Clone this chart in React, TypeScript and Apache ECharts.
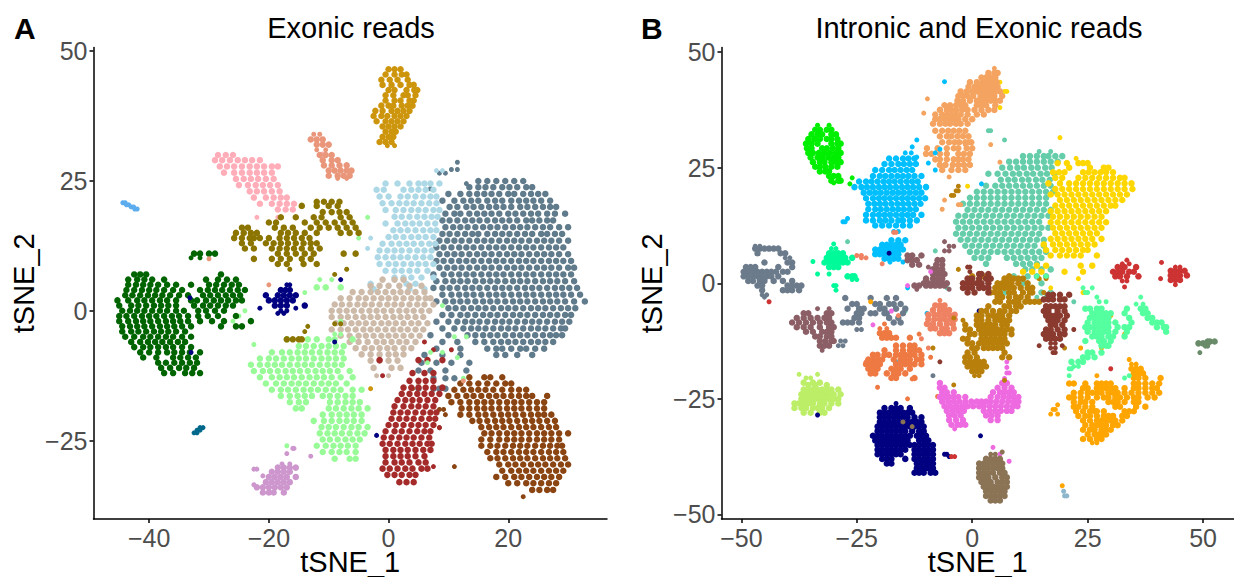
import React, { useEffect, useRef } from "react";
import * as echarts from "echarts";

// Each row is [y, x, x, x, ...], in tSNE units.
type Rows = number[][];

const xTicksA = [-40, -20, 0, 20];
const yTicksA = [-25, 0, 25, 50];
const xTicksB = [-50, -25, 0, 25, 50];
const yTicksB = [-50, -25, 0, 25, 50];

const aSlate: Rows = [
  [28.6,11.5],[27.2,10.5,11.5],[26.5,8.5,9.5],[24.5,13],[23.5,7],[25,15,16.5,18,19.5,21,22.5],
  [23.8,13.5,15,16.2,17.5,19,20.2,21.5,23,24],
  [22.5,10,12,13.5,14.8,16,17.2,18.5,20,21,22.5,23.8,25,26.2],
  [21.2,9,11,12.5,13.8,15,16.5,17.8,19,20.5,21.8,23,24.2,25.5,27],
  [20,10.2,11.5,13,14.2,15.5,16.8,18,19.2,20.5,22,23.2,24.5,25.8,27,28],
  [18.7,9.5,11,12,13.5,14.8,16,17.2,18.5,20,21.2,22.5,23.8,25,26.5,27.8,29.5],
  [17.4,9,10.2,11.5,12.8,14,15.2,16.5,17.8,19,20.2,21.5,23,24,25.2,26.5,27.5],
  [16.1,9.5,10.8,12,13.2,14.5,15.8,17,18.2,19.5,20.8,22,23.2,24.5,25.8,27,28.5,30],
  [14.8,9,10.2,11.5,12.8,14,15,16.5,17.8,19,20.2,21.5,22.8,24,25.5,26.5,27.8,29],
  [13.5,8.5,9.8,11,12.2,13.5,14.8,16,17.2,18.5,19.8,21,22.2,23.5,24.8,26,27.2,28.5,30],
  [12.2,8,9.2,10.5,11.8,13,14.2,15.5,16.8,18,19.2,20.5,21.8,23,24.2,25.5,26.8,28,29.2],
  [10.9,8.5,9.8,11,12.2,13.5,14.8,16,17.2,18.5,19.8,21,22.2,23.5,24.8,26,27.2,28.5,30],
  [9.6,8,9.2,10.5,11.8,13,14.2,15.5,16.8,18,19.2,20.5,21.8,23,24.2,25.5,26.8,28,29.2,30.5],
  [8.3,8.5,9.8,11,12.2,13.5,14.8,16,17.2,18.5,19.8,21,22.2,23.5,24.8,26,27.2,28.5,30,31],
  [7,7.5,9.2,10.5,11.8,13,14.2,15.5,16.8,18,19.2,20.5,21.8,23,24.2,25.5,26.8,28,29.2,30.5],
  [5.7,8,9.5,10.8,12,13.2,14.5,15.8,17,18.2,19.5,20.8,22,23.2,24.5,25.8,27,28.2,29.5,31],
  [4.4,7.5,9,10.2,11.5,12.8,14,15.2,16.5,17.8,19,20.2,21.5,22.8,24,25.2,26.5,27.8,29,30.2,31.5],
  [3.1,9,10.5,11.8,13,14.2,15.5,16.8,18,19.2,20.5,21.8,23,24.2,25.5,26.8,28,29.2,30.5,32],
  [1.8,8,9.5,10.8,12,13.2,14.5,15.8,17,18.2,19.5,20.8,22,23.2,24.5,25.8,27,28.2,29.5,31,32.8],
  [0.5,10,11.2,12.5,13.8,15,16.2,17.5,18.8,20,21.2,22.5,23.8,25,26.2,27.5,28.8,30,31.2],
  [-0.8,9,10.5,12,13.2,14.5,15.8,17,18.2,19.5,20.8,22,23.2,24.5,25.8,27,28.2,29.5,30.5],
  [-2.1,8,10,11.5,12.8,14,15.2,16.5,17.8,19,20.2,21.5,22.8,24,25.2,26.5,27.8,29,30.2],
  [-3.4,9,11,12.5,13.8,15,16.2,17.5,18.8,20,21.2,22.5,23.8,25,26.2,27.5,28.8,29.5],
  [-4.7,7,10,13.2,14.5,15.8,17,18.2,19.5,20.8,22,23.2,24.5,25.8,27,28,29],
  [-6,9,11.5,14.5,16,17.5,18.8,20,21.2,22.5,23.8,25,26.2,27.5],
  [-7.3,8,12,16.5,18,19,20.5,22,23,24.5,26],[-8.5,6,9,12,18,19.5,21.5,24],[-10,5.5,8,10.5,13.5],
  [-11.5,5,7,9.5,13],[-13,7.5,9.5,11],[-15,5,7.5,8.5,9.5],
];
const aLightBlue: Rows = [
  [27,8,9],[24.5,-0.5,1.5,3.5,5,6,7,8.5],[23.3,-2,-0.8,2.5,3.8,5,6.2,7.5],[22,-1.5,0,2,3.2,4.5,5.8,7,8],
  [20.7,-1,0.5,1.8,3,4.2,5.5,6.8,8],[19.4,-0.5,1.2,2.5,3.8,5,6.2,7.5,8.5],[18.1,1,2.2,3.5,4.8,6,7.2,8.2],
  [16.8,-0.5,1.5,2.8,4,5.2,6.5,7.8],[15.5,0.8,2,3.2,4.5,5.8,7,8],[14.2,0,1.2,2.5,3.8,5,6.2,7.5],
  [12.9,-1,0.5,1.8,3,4.2,5.5,6.8,7.8],[11.6,-1.5,-0.2,1,2.2,3.5,4.8,6,7.2],[10.3,-1.8,-0.5,0.8,2,3.2,4.5,5.8,7],
  [9,-1.5,0,1.2,2.5,3.8,5,6.2,7.5],[7.7,-0.5,1,2.2,3.5,4.8,6.5],[6.4,1,2.5,3.8,5.5,7.5],[5.2,-3,3,4.5],
  [4.2,-2.5,3.5,6],[12,-3.5],[14,-3],
];
const aTan: Rows = [
  [6,-1,1,2.5],[4.8,-3,-1.5,0,1.8,3.5,5.5],[3.6,-6,-4.5,-3,-1.8,-0.5,0.8,2,3.2,4.5,6],
  [2.4,-8,-6.5,-5,-3.8,-2.5,-1.2,0,1.2,2.5,3.8,5,6.2,7],[1.2,-9,-7.8,-6.5,-5.2,-4,-2.8,-1.5,-0.2,1,2.2,3.5,4.8,6,7.5],
  [0,-9.5,-8.2,-7,-5.8,-4.5,-3.2,-2,-0.8,0.5,1.8,3,4.2,5.5,6.8],
  [-1.2,-9.5,-8,-6.8,-5.5,-4.2,-3,-1.8,-0.5,0.8,2,3.2,4.5,5.8],[-2.4,-8.8,-7.5,-6.2,-5,-3.8,-2.5,-1.2,0,1.2,2.5,3.8,5,6.5],
  [-3.6,-9.5,-8,-6.8,-5.5,-4.2,-3,-1.8,-0.5,0.8,2,3.2,4.5,5.8],[-4.8,-8,-6.5,-5,-3.8,-2.5,-1.2,0,1.2,2.5,3.8,5.2],
  [-6,-6.5,-5,-3.5,-2,-0.8,0.5,1.8,3,4.5],[-7.2,-5.5,-4,-2.8,-1.5,-0.2,1,2.5,3.8],[-8.4,-4.5,-3,-1.5,0,1.2,2.5],
  [-9.6,-3,-1.5,0,1.5],[-11,-2.5,0.5,2],[-12.5,-2,0],[-14,5],
];
const aBrown: Rows = [
  [-12.8,13.5,16,17,19],[-14,12,13.5,15,16.5,18,19.5,20.5],[-15.2,11,12.5,13.8,15,16.2,17.5,19,20.5,21.8,23],
  [-16.4,10,11.5,13,14.2,15.5,16.8,18,19.2,20.5,21.8,23,24,26.5],[-17.6,10.5,12,13.5,14.8,16,17.2,18.5,19.8,21,22.2,23.5,24.8,26],
  [-18.8,12.2,13.5,14.8,16,17.2,18.5,19.8,21,22.2,23.5,24.8,26],[-20,12,13.5,15,16.2,17.5,18.8,20,21.2,22.5,23.8,25,26,27.2],
  [-21.2,14,15.2,16.5,17.8,19,20.2,21.5,22.8,24,25.2,26.5,27.8],[-22.4,15.5,16.8,18,19.2,20.5,21.8,23,24.2,25.5,26.8,28],
  [-23.6,16,17.2,18.5,19.8,21,22.2,23.5,24.8,26,27.2,28.5,30],[-24.8,15.5,17,18.5,19.8,21,22.2,23.5,24.8,26,27.2,28.5],
  [-26,15.5,17,18.2,19.5,20.8,22,23.2,24.5,25.8,27,28.2,29],[-27.2,16.5,18,19.2,20.5,21.8,23,24.2,25.5,26.8,28,29.2],
  [-28.4,17,18.2,19.5,20.8,22,23.2,24.5,25.8,27,28.2,29.5],[-29.6,18.5,20,21.2,22.5,23.8,25,26.2,27.5,28.8,30],
  [-30.8,19,20.5,21.8,23,24.2,25.5,26.8,28,29.2],[-32,18,19.5,21,22.2,23.5,24.8,26,27.2,28.5],
  [-33.2,20,21.5,23,24.2,25.5,26.8,28],[-34.5,24,25.2,26.5,27.5],[-35.8,22.5],[-19,8.5,9.2],[-20,9.5],[-22.5,8.5],[-30,11],[-15,4],
];
const aRed: Rows = [
  [-12,4,6,7.5],[-13.5,3.5,5,6.2,7.5],[-14.8,2.5,3.8,5,6.2,7.5,9],[-16,2.2,3.5,4.8,6,7.2,8.5],[-17.2,1.5,2.8,4,5.2,6.5,7.8],
  [-18.4,1,2.5,3.8,5,6.2,7.5],[-19.6,0.8,2,3.2,4.5,5.8,7,8],[-20.8,0.5,1.8,3,4.2,5.5,6.8,7.8],[-22,0,1.2,2.5,3.8,5,6.2,7.5],
  [-23.2,-0.5,1,2.2,3.5,4.8,6,7],[-24.4,-0.8,0.5,1.8,3,4.2,5.5,6.8],[-25.6,-1,0.2,1.5,2.8,4,5.2,6.5,7.2],[-26.8,-0.5,0.8,2,3.2,4.5,5.8,7],
  [-28,-0.5,0.8,2,3.2,4.5,6],[-29.2,-0.5,1,2.2,3.5,5,6.2],[-30.4,-1,0.2,1.5,2.8,4,5.5,6.5],[-31.6,-0.2,1,2.2,3.5,4.5],
  [-33,1.8,3,4.2],[-30,7.5],[-22.5,8.5],[-7.5,7.5,10.5],[-9.5,-1.5,5,6.5,9],[-12.5,-1],[-6,6],
];
const aPale: Rows = [
  [-4.5,-9,-8],[-5.5,-17,-13.5,-12,-10,-9,-6],[-6.8,-15,-13.8,-12.5,-11.2,-10,-8.8,-7.5],[-8,-19.5,-17.8,-16.5,-15.2,-14,-12.8,-11.5,-10.2,-9,-7.8],
  [-9.2,-21.5,-20,-18.8,-17.5,-16.2,-15,-13.8,-12.5,-11.2,-10,-8.8,-7.5],[-10.4,-23,-21.5,-20.2,-19,-17.8,-16.5,-15.2,-14,-12.8,-11.5,-10.2,-9,-7.8],
  [-11.6,-22.5,-21,-19.8,-18.5,-17.2,-16,-14.8,-13.5,-12.2,-11,-9.8,-8.5,-6.5],[-12.8,-21.5,-19.5,-18.2,-17,-15.8,-14.5,-13.2,-12,-10.8,-9.5,-8,-6],
  [-14,-20.5,-18.8,-17.5,-16.2,-15,-13.8,-12.5,-11.2,-10,-8.8,-7],[-15.2,-19.5,-18,-16.8,-15.5,-14.2,-13,-11.8,-10.5,-9.2,-8,-6,-4.5],
  [-16.4,-18,-16.5,-15.2,-14,-12.8,-11,-9.8,-8.5,-7.2,-6],[-17.6,-16.5,-15,-13.8,-9.8,-8.5,-7.2,-6,-4.8],[-18.8,-15.5,-14.5,-10,-8.8,-7.5,-6.2,-5,-3.5],
  [-20,-11,-9.5,-8.2,-7,-5.8,-4.5],[-21.2,-12.5,-10.8,-9.5,-8.2,-7,-5.8,-4.5],[-22.4,-11.2,-10,-8.8,-7.5,-6.2,-5,-3.5],[-23.6,-11.5,-10.2,-9,-7.8,-6.5,-5.2,-4],
  [-24.8,-11,-9.8,-8.5,-7.2,-6,-4.8],[-26,-12,-10.5,-9.2,-8,-6.8,-5.5],[-27.2,-11,-9.5,-8.2,-7,-5.5],[-28.5,-9,-6.5,-5.5],[-26,-17],
  [-6.5,-22.5],[6,-11.5,-9.5],[4.5,-12,-10.5,-8],[-1,-25],[0,-24],[-2,-26],[3.5,-14],
  [-5,11,13],[-8,7,9],[-10,6.5],[1,9],[-13,12.5],[14,-5],[18,-3.5],[-2,-8],[-9,11.5],
];
const aDarkGreen: Rows = [
  [11,-31.5,-32.5,-30,-29],[10.2,-33,-31.5],[7,-42.5,-41.5,-40.5,-28],[6,-43.5,-42,-40.8,-39.5,-37.5,-30.5,-28.5,-27,-25.5],
  [5,-43.5,-42.2,-41,-39.8,-38.5,-37,-35.5,-33,-30,-28.8,-27.5,-26.2,-25],[4,-43.8,-42.5,-41.2,-40,-38.8,-37.5,-36,-34.5,-31.5,-30.2,-29,-27.8,-26.5,-25.2,-24],
  [3,-44,-42.8,-41.5,-40.2,-39,-37.8,-36.5,-35,-33.5,-31,-29.8,-28.5,-27.2,-26,-24.8],[2,-45.3,-43.5,-42,-40.8,-39.5,-38.2,-37,-35.5,-33,-32,-30.5,-29.2,-28,-26.8,-25.5,-24.5],
  [1,-45,-43,-41.8,-40.5,-39.2,-38,-36.8,-35.5,-32.5,-31,-29.8,-28.5,-27.2,-26],[0,-44.5,-43.2,-42,-40.8,-39.5,-38.2,-37,-35.5,-34.2,-31.8,-30.5,-29,-27.5],
  [-1,-45,-43.8,-42.5,-41.2,-40,-38.8,-37.5,-36.2,-35,-33.5,-31.8,-30.2,-28.5,-25.5],[-2,-45,-43.5,-42.2,-41,-39.8,-38.5,-37.2,-36,-34.8,-33.5,-31.5,-29.5,-27.5,-23],
  [-3,-44.5,-43.2,-42,-40.8,-39.5,-38.2,-37,-35.8,-34.5,-33,-28,-25.5,-24.5],[-4,-44.5,-43,-41.8,-40.5,-39.2,-38,-36.8,-35.5,-34],[-5,-44,-42.5,-41,-39.8,-38.5,-37.2,-36,-34.5,-33],
  [-6,-43,-41.5,-40.2,-39,-37.8,-36.5,-35.2,-34],[-7,-42.5,-41,-39.8,-38.5,-37.2,-36,-34.5,-33],[-8,-41.5,-40,-38.5,-37,-35.8,-34.5,-33.2,-31.5],
  [-9,-41,-38.8,-36,-34.8,-33.5,-32.2],[-10,-38.5,-37.2,-35.8,-34.5,-33.2,-32],[-11,-38,-36.5,-35,-33.8,-32.5],[-12,-37.5,-36,-34,-32.8,-31.5],
];
const aPink: Rows = [
  [30,-28.5,-27.2,-26],[29,-29,-27.8,-26.5,-25.2,-24,-22.8,-21.5],[27.8,-28.2,-27,-25.8,-24.5,-23.2,-22,-20.8,-19.5,-18.5],
  [26.6,-27.5,-25.8,-24.5,-23.2,-22,-20.8,-19.5],[25.4,-25.5,-24.2,-23,-21.8,-20.5,-19.2],[24.2,-25,-23.5,-22.2,-21,-19.8,-18.5],
  [23,-23.2,-22,-20.8,-19.5,-18.2],[21.8,-22.5,-20.5,-19.2,-18,-17],[20.6,-21.5,-19.5,-18.2,-17,-15.8],[19.5,-18.5,-17.2,-16],[18,-22,-18.5],
  [30.2,-11],
];
const aOlive: Rows = [
  [21,-12,-10.8,-9.5,-8.2],[20.2,-14.5,-12,-10,-8.5],[19,-11,-9.5,-8.2,-7],[18,-18,-15.5,-12.5,-11.2,-8,-6.5],[17,-20,-18.8,-14,-12,-10.5,-9,-7.5,-6],
  [16,-24.5,-23.5,-19,-17.5,-16,-13,-11.5,-10,-8.5,-7,-5.5],[15,-25.5,-24.2,-23,-22,-18,-16.8,-15.5,-14,-12,-8,-6.5,-5],[14,-25.8,-24.5,-23.2,-22.5,-21.5,-20,-18.2,-17,-15.8,-14.5,-13.2],
  [13,-24.5,-23,-20.5,-19.2,-18,-16.8,-15.5,-14.2,-13,-12],[12,-24,-22.5,-19.5,-18.2,-17,-15.8,-14.5,-13,-11.5],[11,-18.5,-17,-15.5,-14,-12.5,-7.5,-5.5],
  [10,-22.5,-19.5,-18,-16.5,-14.5,-13],[9,-18.5,-17,-14.2,-12],[8,-16.5,-7],[-5.5,-17,-16,-15,-14.5],[-4,-14],[-2.5,-9,-8],[-3,-13.5],[7,-9],
];
const aMustard: Rows = [
  [46.5,0,1,2],[45.5,-0.5,1,2.2,3],[44.5,-1.2,0.2,1.5,3.2],[43.5,-1,0.5,2,3.5,4.2],[42.5,0,1,3,4.3,4.8],[41.5,-0.5,0.8,2.5,3.2,4.5],
  [40.5,-0.5,1,2,3.5,4.2],[39.5,-1.2,0,0.8,2.2,3.2,4],[38.5,-2.2,-1,0.5,1.5,2.5,3.5],[37.5,-2.5,-1.2,-0.2,1,2,3],[36.5,-2,-0.5,0.5,1.5,2.5],
  [35.5,-1,0,1,2],[34.5,-0.5,0.5,1.2],[33.5,-1,0,0.8],[32.5,-1.5,-0.5,0.5],[31.8,-0.2,1],[-15,-3],
];
const aSalmon: Rows = [
  [34,-12.5,-11.5],[33,-13,-12,-11],[32,-12,-11,-10],[31,-12,-10.5],[30,-11.5,-10.5,-9.5],[29,-11,-9.5,-8.5],[28,-10.8,-9.5,-8.2,-7],
  [27,-10,-9,-8,-7,-6.2],[26,-10,-8.5,-7.5,-6.5],[25.5,-8.5,-7],[10,-30],[5,-20],[-13.5,12.5],
];
const aNavy: Rows = [
  [5,-17,-16.5],[4,-18,-17.2,-16.5],[3,-20.5,-18.5,-17.5,-16.5,-15.5],[2,-20,-19,-18,-17,-16],[1,-19,-18,-17,-14],[0,-18,-17],[-0.5,-18.5,-17.5],[0.5,-21.5,-15.5],
  [-8,-33],[2.5,-33.2],[-6,-9],[-24,-2],[6,-8],
];
const aPlum: Rows = [
  [-26.5,-15.8,-16],[-27.5,-17],[-29.5,-17.8,-16.5],[-30.2,-18.5,-17.5,-16.5,-15.5],[-31,-19.5,-18.5,-17.5,-16.5],[-32,-20,-19,-18,-17,-15.5],[-33,-20.5,-19.5,-18.5,-17.5,-16.5],[-34,-22,-21,-20,-19,-18,-17],[-35,-21,-20,-19.2,-17.5],[-30.5,-22.5,-22],[-31.8,-21],[-33.5,-22.5],[-28,-13],
];
const aSky: Rows = [[20.8,-44.4,-44],[20.4,-43.8,-43.4],[20,-43,-42.6],[19.6,-42.4,-42]];
const aTeal: Rows = [[-22.5,-31.5,-31],[-23,-32,-31.5],[-23.5,-32.5,-32]];

const bTeal: Rows = [
  [33,4,3.5],[31,7],[28.5,14.5,17],[27.5,11,12.5,14,15.5,16.5,18,19.5],[26.3,8,9.5,11,12.5,14,15.5,17,18.5],[25,6.5,8.2,9.8,11.2,12.8,14.2,15.8,17.2],
  [23.7,3.5,5.5,7.2,8.8,10.2,11.8,13.2,14.8,16.2,17.8],[22.4,6.2,7.8,9.2,10.8,12.2,13.8,15.2,16.8],[21.1,3,5,6.5,8,9.5,11,12.5,14,15.5,17],
  [19.8,1,2.5,4,5.5,7,8.5,10,11.5,13,14.5,16,17.5],[18.5,-0.5,1,2.5,4,5.5,7,8.5,10,11.5,13,14.5,16],[17.2,-2,-0.5,1,2.5,4,5.5,7,8.5,10,11.5,13,14.5,16],
  [15.9,-1,0.5,2,3.5,5,6.5,8,9.5,11,12.5,14,15.5,17],[14.6,-3,-1.5,0,1.5,3,4.5,6,7.5,9,10.5,12,13.5,15,16.5],[13.3,-3.5,-2,-0.5,1,2.5,4,5.5,7,8.5,10,11.5,13,14.5],
  [12,-3,-1.5,0,1.5,3,4.5,6,7.5,9,10.5,12,13.5,15,16.5],[10.7,-3.5,-2,-0.5,1,2.5,4,5.5,7,8.5,10,11.5,13,14.5],[9.4,-2.5,-1,0.5,2,3.5,5,6.5,8,9.5,11,12.5,14,15.5],
  [8.1,-1.5,0,1.5,3,4.5,6,7.5,9,10.5,12,13.5,15.5],[6.8,-0.5,1,2.5,4,5.5,7,8.5,10,11.5,13,14.5,16],[5.5,0.5,2,3.5,7.5,9,10.5,12,13.5,15],
  [4.2,3,9.5,11,12.5,14],[3,11.5,13,15,17],[1.5,9,12,14,16],[0,7,15,11],[-2,7,15,17],[-3,14,16],[-4,9,22],[-6,-14.5],[9,-27],[16,-13.5],[21,-10],[7,-8],[-1,-5.5],
];
const bYellow: Rows = [
  [43.5,6],[41.5,7.5,7],[38,6],[31.5,19],[27,22.5],[26,18.5,20.5,23,24,25],[25,21,25.5,28.5,29.5],[24,17.5,18.8,20,24,25.2,26.5,27.8,29,30.5],[22.8,18,19.5,23,24.5,26,27.5,29,30.5,32,33],
  [21.6,16.5,19,21,22.5,24,25.5,27,28.5,30,31.5,33,34.5],[20.4,18,19.5,21,22.5,24,25.5,27,28.5,30,31.5,33,34.7],[19.2,17,18.5,20,21.5,23,24.5,26,27.5,29,30.5,32,33.5],
  [18,19,20.5,22,23.5,25,26.5,28,29.5,31,32.5],[16.8,18,19.5,21,22.5,24,25.5,27,28.5,30,31],[15.6,17,18.5,20,21.5,23,24.5,26,27.5,29],[14.4,17.5,19,20.5,22,23.5,25,26.5,28],
  [13.2,17,18.5,20,21.5,23,24.5,26,27.5,29],[12,17.5,19,20.5,22,23.5,25,26.5,28],[10.8,18,19.5,21,22.5,24,25.5,27],[9.6,17,18.5,20,21.5,23,24.5,26,28],[8.4,15.5,17.5,19,20.5,22,23.5,25,26.5],
  [7.2,16,18,19.5,21,22.5,24,25],[6,17,19,20.5,22,23.5,27],[3.8,14,16,23.5,26],[2.5,11,13,15,20,24],[1,14.5,23],[-1,10.5,17],[-2,24],[21,-1]
];
const bSand: Rows = [
  [46.5,4.8],[45.5,3.5,4.8,5.5],[44.5,2,3,4,5],[43.5,-0.5,1,2.2,3.2,4.2,5.3],[42.5,-0.8,0.5,1.5,2.5,3.5,4.5,5.5],[41.5,-2.5,-1.2,0,1,2,3,4,5,6],
  [40.5,-3,-2,-1,0.2,1.8,2.8,3.8,4.8,6.5],[39.5,-3.2,-2,-0.5,1,2,3,4,5,6],[38.5,-6,-4.8,-3.5,-2.5,-1.5,1,2,3,5],[37.5,-7,-5.5,-4.5,-3.5,-2.2,-1,0.5,2,3.5,4.8],
  [36.5,-8,-6.5,-5.5,-4.5,-3.5,-2.5,-1,1,2.5],[35.5,-8,-7,-6,-5,-4,-3,-1.5,0],[34.5,-8.5,-7,-5.8,-4.8,-3.5,-2.5,-1],[33,-8,-6.5,-5.2,-4,-2.8,-1.5],
  [31.8,-7,-5.5,-4.5,-3.2,-2,-0.8],[30.5,-6.5,-5,-3.8,-2.8,-1.5,-0.2,-0.8],[29.2,-9.8,-7.5,-5.5,-4,-3,-1.2,0],[28,-10,-8.8,-7,-5.5,-3,-1.8,-0.5],[26.8,-8,-7,-5.5,-4,-3,-2,-0.8],
  [25.6,-7,-5.8,-4.2,-3,-1.8,-0.5],[24.5,-6.5,-4.5,-3,-1.5],[23,-5],[17,-3,-2.5],[39.9,-9.7],[36.8,-10.5],[18,-6],[16,-6.5],[30,-1.5,4],[32,-2],[26.2,6],
];
const bBlue: Rows = [
  [31,-12],[29.5,-13],[28.2,-14.5,-13.2],[27,-18,-16.5,-15,-13.8,-12.5],[25.8,-19,-17.5,-16,-14.8,-13.5,-12.2],[24.5,-21,-19.5,-18,-16.8,-15.5,-14.2,-13],
  [23.2,-21.5,-20,-18.8,-17.5,-16.2,-15,-13.8,-12.5,-11],[22,-24.5,-23,-21.8,-20.5,-19.2,-18,-16.8,-15.5,-14.2,-13,-11.8],[20.8,-25.5,-24,-22.8,-21.5,-20.2,-19,-17.8,-16.5,-15.2,-14,-12.8,-11.5,-10],
  [19.6,-23.5,-22.2,-21,-19.8,-18.5,-17.2,-16,-14.8,-13.5,-12.2,-11],[18.4,-23,-21.5,-20.2,-19,-17.8,-16.5,-15.2,-14,-12.8,-11.5,-10.2],[17.2,-22.5,-21.2,-20,-18.8,-17.5,-16.2,-15,-13.8,-12.5,-11.2],
  [16,-22.5,-21,-19.8,-18.5,-17.2,-16,-14.8,-13.5,-12.2],[14.8,-23,-21.5,-20.2,-19,-17.8,-16.5,-15.2,-14,-12.8,-11],[13.6,-23,-21.5,-20,-18.8,-17.5,-16,-15,-13.5,-12],[12.5,-21,-19.5,-18,-16.5,-15,-13.5],[11.2,-17,-16],
  [13.3,-28,-27.5],[14,-27],[9.3,-17.5,-16,-14.5],[8.3,-19.5,-18.5,-17.5,-16.5,-15.5],[7.3,-21,-20,-19,-18,-17,-16,-15],[6.3,-21,-20,-19,-18,-17,-16],[5.3,-19,-18,-17,-16],[4.6,-17.8,-15],
  [43.6,-6],[26,-9.5],[24.5,-8],[27.3,-12],[28.2,-8],[29,-7],[-1,-14],[21.5,2],[-6.5,-9.8],[-17,-16.5],
];
const bGreen: Rows = [
  [34.2,-33.5,-31],[33.2,-34,-33,-31.5,-30.5],[32.2,-34.8,-33.5,-32.5,-30.5,-29.5],[31.2,-35.5,-34.2,-33,-31.5,-30.5,-29.2],[30.2,-36,-34.8,-33.5,-30.5,-29.2,-28.5],[29.2,-35.8,-34.8,-32.5,-31.5,-30.2,-29],
  [28.2,-35.5,-34.5,-33.2,-32,-30.8,-29.5,-28.5],[27.2,-35,-33.5,-32.5,-31.2,-30,-29],[26.2,-34.5,-33,-32,-30.5,-29.5,-28.5],[25.2,-34,-33,-31.8,-30.5,-29.2],[24.2,-33,-31.8,-31],[23.2,-31,-30,-29],[22.2,-30.5,-29,-28.5],[21.7,-30],
  [22.8,-26],[21.5,-26.5],
];
const bSlate: Rows = [
  [8,-47,-46],[7.5,-47,-46,-45,-44,-43,-42],[6.5,-46.5,-41.5,-40.5],[5.5,-40.5,-39.5],[4.5,-45,-40,-39],[3.5,-49,-48,-47,-42,-39],[2.5,-49.5,-48.5,-47.5,-46.5,-45.5,-44.5,-43.5,-42.5,-41,-40],[1.5,-49.5,-48.5,-47.5,-46.5,-45.5,-44.5,-43.5,-42],[0.5,-48.5,-47.5,-46,-45,-43,-41,-39],[-0.5,-46.5,-45.5,-40,-39,-38,-37],[-1.5,-45.5,-41,-40,-39,-37.5],[-2.5,-45.5,-44.5],[-3,-45],
  [-3.2,-27.5,-22,-16.5,-18.5],[-4.5,-26,-25,-21,-20,-18,-17,-15.5],[-5.5,-27,-24.5,-23.5,-20,-19,-16.5,-14.5],[-6.5,-25,-24,-22,-21,-19,-18.5,-15],[-7.5,-25.5,-24.5,-18,-16],[-8.5,-28,-27,-26,-24.5,-15.5,-17],[-10,-25,-24],
  [-12.5,-28.5,-27.5],[-13.5,-29,-28],[-20,-8.5],
];
const bRosy: Rows = [
  [-5.5,-33.5,-31],[-6.5,-36.5,-35.5,-31.5,-30.5],[-7.5,-38,-36.5,-35,-33.5,-32,-31],[-8.5,-39,-37.5,-36,-34.5,-33,-31.5,-30.5],[-9.5,-38,-36.5,-35,-33,-31,-30],[-10.5,-36,-34.5,-32.5,-31.5,-30.5],[-11.5,-34,-33,-31.5,-30.5],[-12.5,-33,-31.8,-30.5,-30],[-13.5,-33,-32,-31],[-14.5,-32.5],
  [9,-6],[8,-5,-4],[7,-6,-5],[6,-14,-13,-11],[5,-14,-13,-12,-7.5,-6.5],[4,-13,-11.5,-7.8,-6.5],[3.5,-9.5],[3,-8.5,-7.5,-6.5],[2,-8.5,-7.5,-6.5,-6],[1,-10,-8.5,-7.5,-6.5],[0,-10.5,-9.5,-8.5,-7.5,-6.5,-5.5],[-0.5,-12.5,-11.5,-10,-9,-8,-7,-6],[-1.3,-12,-5],
];
const bSpring: Rows = [
  [8.5,-30],[7.5,-30.5,-29.5],[6.5,-31,-30,-29,-28],[5.5,-31.5,-30.5,-29.5,-28.5,-27.5,-26],[4.5,-32,-31,-30,-29,-28,-27],[3.5,-31,-30,-29],
  [2,-33.5,-31],[4.7,-34.5],[1.5,-27,-26,-25.5],[0.8,-26,-25],[-0.5,-30,-29.5],[-1.5,-29.5],
];
const bCoral: Rows = [
  [-3.7,-7],[-4.8,-8,-7,-6],[-5.8,-8.5,-7,-6,-5],[-6.8,-9.5,-8.2,-7.2,-6,-5,-3.8],[-7.8,-9.5,-8.2,-7,-6,-4.8,-3.8],[-8.8,-9.8,-8.5,-7,-5.5,-4.2],[-9.8,-9,-8,-6.5,-5.5,-4],[-10.8,-7,-6,-5],[-12,-11],
  [4.2,-19.5],[5.5,-23,-24],[6,-25,-24],[11,-17,-16.5],[-14,-9.5],[-17,-23],[-7,-16],
];
const bSienna: Rows = [
  [-8.8,-19],[-9.8,-20,-18.5],[-10.8,-20,-19,-18],[-11.8,-19.5,-18.5,-17.5,-16.5,-13.5],[-13.5,-16.5,-15,-13.5,-12.5],[-14.5,-19,-16.5,-15,-13.5,-12.5,-11.5],[-15.5,-21.5,-20.5,-19,-18,-16.5,-15.5,-14.5,-13.5,-12.5,-11],[-16.5,-22.5,-21.5,-20.5,-19.5,-17,-15.5,-14.5,-13.5,-12,-11],
  [-17.5,-23,-22,-21,-20,-16.5,-15.5,-14.5,-13.5,-12.5,-11],[-18.5,-22.5,-21.5,-20.5,-17.5,-16.5,-15.5,-13.5],[-19.5,-22,-21,-18.5,-17,-16,-14.5],[-20.5,-17.5,-16.5,-12.5],[-22.5,-20.5],[-16,-9],[-24.5,-7.5],[-25,-14],[-11,-11.5],[-20.7,-13],
];
const bLime: Rows = [
  [-19.7,-37.5,-33.5],[-20.5,-36,-35],[-21.5,-36.5,-34.5,-33],[-22,-35.5,-34,-31.5],[-23,-36.5,-35.5,-34.5,-33.5,-32.5,-31.5,-30.5,-29],[-24,-37,-36,-35,-34,-33,-32,-31,-30,-28.5],[-25,-37,-36,-35,-34,-33,-32,-31,-30,-29],[-26,-38.5,-37.5,-36.5,-35.5,-34.5,-33,-32,-30.5,-29],[-27,-38.5,-37,-36,-34.5,-33.5,-32.5,-31],[-28,-36.5,-35,-33,-32],
];
const bNavy: Rows = [
  [-26,-16.5],[-27,-19,-17.5,-16.5,-15.5,-13.5],[-28,-20,-19,-18,-17,-16,-15,-14,-13],[-29,-20,-19,-18,-17,-16,-15,-14,-12.5,-11],[-30,-20,-19,-18,-17,-16,-15,-14,-13,-12,-11],
  [-31,-20.5,-19.5,-18.5,-17.5,-16.5,-15.5,-14.5,-13.5,-12.5,-11.5,-10.5],[-32,-20.5,-19.5,-18.5,-17.5,-16.5,-15.5,-14.5,-13,-11.5,-10.5],[-33,-21.5,-20.5,-19.5,-18.5,-17.5,-16.5,-15.5,-14.5,-13.5,-12,-11,-10],
  [-34,-21,-20,-19,-18,-17,-16,-15,-14,-11.5,-10.5,-9.5],[-35,-20.5,-19.5,-18.5,-17.5,-16.5,-15.5,-14.5,-13.5,-12.5,-11.5,-10.5,-9.5,-8.5],[-36,-20.5,-19.5,-18.5,-17.5,-16.5,-15.5,-14.5,-12.5,-11.5,-10.5,-9.5,-8.5],
  [-37,-20.5,-19.5,-18.5,-17.5,-16.5,-15.5,-12.5,-11.5,-10.5,-9.5,-8.5],[-38,-19.5,-18.5,-17.5,-14.5,-12.5,-11.5,-10.5,-9.5,-8.5],[-39,-18.5,-17.5,-12,-11,-10,-9,-8.5],[-40,-12,-11,-10,-9.5,-8.5],[-41,-12.5,-11.5,-10.5,-9,-8],
  [-28.5,-33.5],[-37,-6,-5.5],[-37.5,-5],[-33,1.8],[-6,1.5],[6.5,-18],
];
const bViolet: Rows = [
  [-17,7.5],[-18.2,7.5],[-19.4,7.5,8],[-20.6,7],[-21.6,6.5,7.5,-7],[-22.6,-7,-6,5.5,7,8.5],[-23.6,-6.5,-5.5,-4,4.5,6,7,8,9],[-24.6,-7,-6,-5,-4,-3,-1.5,4,5.5,6.8,8,9,10],
  [-25.6,-6.5,-5.2,-4,-2.8,-1.5,-0.2,1,2,3,4,5.2,6.5,7.8,9,10],[-26.6,-6,-4.8,-3.5,-2.2,-1,0.2,1.5,2.5,3.8,5,6.2,7.5,8.8,9.8],[-27.6,-5.5,-4.2,-3,-1.8,2.5,3.8,5,6.2,7.5,8.5],[-28.6,-5,-3.8,-2.5,3,4.2,5.5],[-29.6,-5,-3.5,-2,4,5.5],[-30.6,-4.5,-3.2,-2.5,-1.5],[-31.5,-3.8],
  [-35.5,4.5],[-37,6],[-9,-21.5],[-6,-17.5],[2.5,-9],[-0.5,-14],[-38.5,8],
];
const bBurly: Rows = [
  [-37,5,4],[-38,3,4,5,6],[-39,1.5,2.5,3.5,4.5,5.5,6.5],[-40,1.5,2.5,3.5,4.5,5.5,6.5],[-41,1.5,2.5,3.5,4.5,6,7],[-42,1.5,2.5,3.5,5,6.5,7.5],[-43,2,3,4,5.5,6.5,7.5],[-44,2.5,3.5,4.5,5.5,6.5,7.5],[-45,3,4,5,6,7],[-46,3,4,5,6,7],[-47,4,5,6],[-36.5,6.5],[-30,-15],[-31,-13],
];
const bOrange: Rows = [
  [-16.5,34],[-17.5,34.5,35.5],[-18.5,34.5,35.5,36.5],[-19.5,35,36,37],[-20.5,35,36,37.5,40.8],[-21.7,21,22,24.5,27,28,29,30,35,36,37.5,39,40.5],
  [-22.7,24,25,27,28,29,30,31,33,35,36,37.5,39,40],[-23.7,22,23.5,25,26,27,28,29.5,30.5,31.5,33,34.5,36,37.5,39,40.5],[-24.7,21,22,23.5,25,27,28.5,29.5,31,32,33.5,35,36,38,39.5],[-25.7,22,23.5,24.5,26,29.5,30.5,31.5,33,35,36],
  [-26.7,22,23,24.5,26,31,32,35.5,37.5],[-27.7,22.5,24,25.5,26.5,27,28.5,33,34,35],[-28.7,23,24.5,25.5,27,28.5,29.5,30.5,32.5,33.5],[-29.7,24,25.5,27,28,29,30,31,32.5],[-30.7,24.5,26,27,28,29,30.5,31.5],[-31.7,24,25.5,26.5,28,29,30],[-32.7,25,26.5,27.5,28.5,29],
  [-33.7,24,25.5,27,28],[-34.5,26,27],[-26.3,18.5],[-27.3,17.5,18],[-28.3,17,18.5],[-43.8,19.5],[-14,23.5,28],[-17,24],[-20,27],[-11,33],[-7,30],[-4,-22],
];
const bGold: Rows = [
  [19,-4,-4.5],[20,-3.5,-3],[21,-3],[3,-3],[1.5,0,2,3,8],[1,7,8,9,10,11],[0,5.5,6.5,7.5,8.5,10,12],[-1,5,6,7,8,9,10.5,12,13],[-2,4,5,6,8,9,11,12.5,13],[-3,5.5,6.5,8,9.5,10.5,12],[-4,5,6,8,9,10,11.5],[-5,3.5,7,8,9.5,10.5],[-6,2,3,4.5,6,7,8.5,9.5],[-7,1,2,3.5,4.5,5.5,6.5,8],[-8,1,2,3.5,5,6,7,8],[-9,-1.5,1,2,3,4,5,6.5,7.5],
  [-10,-1.5,-0.5,1.5,2.5,3.5,4.5,5.5,6.5,7.5,8.5],[-11,-0.5,0.5,2,3,4,5,6,7,8.5],[-12,-2,-1,2,3,4,5,6,7],[-13,-1,0,1.5,2.5,3.5,4.5,5.5,6.5,7.5],[-14,0,1,2.5,3.5,4.5,5.5,6.5],[-15,-1,0.5,7],[-16,-1.5,-0.5,1,6.5,8],[-17,-1.5,-0.5,0.5,1.5,2.5],[-18,-1,0,1,2,3],[-19,0,1,2],[-20,0.5,1.5],[-21,7],[-14,20,-8.5],[-4,13.5,12.5,14.5],[-22,-4],[1,14.5,16],[-2,15.5],[-7.5,-4],[-8,-2],
];
const bBrown: Rows = [
  [3.5,-1,-0.5],[2.5,-0.5],[2,1.5,2,3.5],[1,-1,0,1.5,3,4],[0,-2,-1,0,1,2,3.5],[-1,-2,-1,0,1.5,2.5,3.5],[-2,-1,0.5,3.5],[-2.5,16.5,17.5,19,21],[-3.5,15.5,16.5,17.5,19,20],[-5,16,17,18,19,20],[-6,15.5,16.5,18.5,20],[-7,16,17,18,19,20.5],[-8,16.5,17.5,18.5,20],[-9,17,18,19.5],[-10,16,17,18.5,20],[-11,15.5,16.5,17.5,19,20],[-12,16,17,18,19],[-13,17,18],[-14,17,18],[-15,17.5,18],[-13.5,14.5,19.5],[-17,-7],[-10,22],
];
const bSea: Rows = [
  [-3,36.5],[-4,27.5,29],[-4.5,35.5,37],[-5.5,24.5,25.5,27,28,33.5,36.5,37.5],[-6.5,26,27,28,29,30,33,37,38],[-7.5,25.5,26.5,27.5,28.5,29.5,34,38,39],[-8.5,25,26.5,27.5,28.5,29.5,31,34.5,39,40,41],[-9.5,24.5,25.5,26.5,27.5,28.5,29.5,31.5,33,34,40,41.5,42],[-10.5,25,26.5,27.5,28.5,29.5,31,33.5,42],
  [-11.5,26,27,28,29.5,30.5,33],[-12.5,24.5,27.5,28.5,30],[-13.5,28,29,29.5],[-15,25,26,28],[-16,24,25,26.5],[-17,21.5,23,24],[-18,22,23],[-18.5,21,21.5],[-20,21],[-1,24,26],[-3,27],[1.5,14,16],[-2,24.5,25],[-20.5,33],[-20,34],
];
const bFire: Rows = [
  [5,33.5],[4.2,32.5,34],[3.5,31.5,32.5,33,35.5],[2.5,30.5,31.5,32.5,34,35],[1.5,31,32,33.5,36],[0.5,32.5,33.5],[-0.8,33],[4.5,41],[3.5,44,45],[2.7,43,44,45,46],[1.7,43,44,45,46.5],[0.7,43,44,45],[-0.3,44],[1,40.8],[-18.5,30],[-4,-44],[-37.5,-4.5,-3.8],
];
const bSea4: Rows = [[-12.6,51,51.5,52.5],[-13,49,50,51],[-13.6,50.5,51],[-15,49.3]];
const bPale: Rows = [[-45,19.8],[-46,20,20.5]];

const makePoints = (rows: Rows) => rows.flatMap(([y, ...xs]) => xs.map((x) => [x, y]));

const panelA: [Rows, string][] = [
  [aSlate, "#607B8B"], [aLightBlue, "#ADD8E6"], [aTan, "#CDBAA8"], [aBrown, "#8B4513"], [aRed, "#A52A2A"],
  [aPale, "#98FB98"], [aDarkGreen, "#006400"], [aPink, "#FFAEB9"], [aOlive, "#8B7500"], [aMustard, "#CD950C"],
  [aSalmon, "#E9967A"], [aNavy, "#000080"], [aPlum, "#CD96CD"], [aSky, "#5CACEE"], [aTeal, "#00688B"],
];
const panelB: [Rows, string][] = [
  [bTeal, "#66CDAA"], [bYellow, "#FFD700"], [bSand, "#F4A460"], [bBlue, "#00BFFF"], [bGreen, "#00EE00"], [bSlate, "#6C7B8B"],
  [bRosy, "#8B5F65"], [bSpring, "#00FA9A"], [bCoral, "#EE8262"], [bSienna, "#EE7942"], [bLime, "#BCEE68"], [bNavy, "#000080"],
  [bViolet, "#EE6AE0"], [bBurly, "#8B7355"], [bOrange, "#FFA500"], [bGold, "#B8800B"], [bBrown, "#8B3A2F"], [bSea, "#54FF9F"],
  [bFire, "#CD3333"], [bSea4, "#698B69"], [bPale, "#8DB6CD"],
];

const fmt = (v: number) => String(v).replace("-", "\u2212");
const FONT = "'Liberation Sans', Arial, sans-serif";

const axis = (min: number, max: number, ticks: number[], name: string, gap: number) => ({
  type: "value",
  min,
  max,
  name,
  nameLocation: "middle",
  nameGap: gap,
  nameMoveOverlap: false,
  nameTextStyle: { color: "#000", fontSize: 29, fontFamily: FONT },
  splitLine: { show: false },
  axisLine: { show: true, onZero: false, lineStyle: { color: "#000", width: 1.5 } },
  axisTick: { show: true, length: 4, customValues: ticks, lineStyle: { color: "#000", width: 1.5 } },
  axisLabel: { color: "#4D4D4D", fontSize: 25, fontFamily: FONT, margin: 6, customValues: ticks, formatter: fmt, hideOverlap: false },
});

const text = (x: number, y: number, t: string, bold: boolean) => ({
  type: "text",
  x,
  y,
  style: {
    text: t,
    fill: "#000",
    fontFamily: FONT,
    fontSize: bold ? 30 : 29,
    fontWeight: bold ? "bold" : "normal",
    textAlign: bold ? "left" : "center",
    textVerticalAlign: "middle",
  },
});

// Rows holding many points are cluster bodies; rows with one or two are stray cells, drawn smaller.
const seriesFor = (panel: [Rows, string][], idx: number) =>
  panel.flatMap(([rows, color]) =>
    [
      { part: rows.filter((r) => r.length > 3), size: 6.5 },
      { part: rows.filter((r) => r.length <= 3), size: 5 },
    ].map(({ part, size }) => ({
      type: "scatter",
      xAxisIndex: idx,
      yAxisIndex: idx,
      symbolSize: size,
      silent: true,
      itemStyle: { color, opacity: 1 },
      data: makePoints(part),
    }))
  );

export default function App() {
  const ref = useRef<HTMLDivElement>(null);
  useEffect(() => {
    const chart = echarts.init(ref.current!, undefined, { renderer: "svg" });
    chart.setOption({
      animation: false,
      backgroundColor: "#fff",
      grid: [
        { left: 93.5, top: 47.5, width: 513.5, height: 471.5, outerBoundsMode: "none" },
        { left: 721.5, top: 47.5, width: 512.5, height: 471.5, outerBoundsMode: "none" },
      ],
      xAxis: [
        { ...axis(-49.3, 36.5, xTicksA, "tSNE_1", 28), gridIndex: 0 },
        { ...axis(-54.3, 56.7, xTicksB, "tSNE_1", 28), gridIndex: 1 },
      ],
      yAxis: [
        { ...axis(-40.1, 50.7, yTicksA, "tSNE_2", 55), gridIndex: 0 },
        { ...axis(-51, 51, yTicksB, "tSNE_2", 55), gridIndex: 1 },
      ],
      graphic: [
        text(14, 28, "A", true),
        text(641, 28, "B", true),
        text(351, 27.5, "Exonic reads", false),
        text(979, 27.5, "Intronic and Exonic reads", false),
      ],
      series: [...seriesFor(panelA, 0), ...seriesFor(panelB, 1)],
    });
    return () => chart.dispose();
  }, []);
  return <div ref={ref} style={{ position: "absolute", left: 0, top: 0, width: 1234, height: 577 }} />;
}
